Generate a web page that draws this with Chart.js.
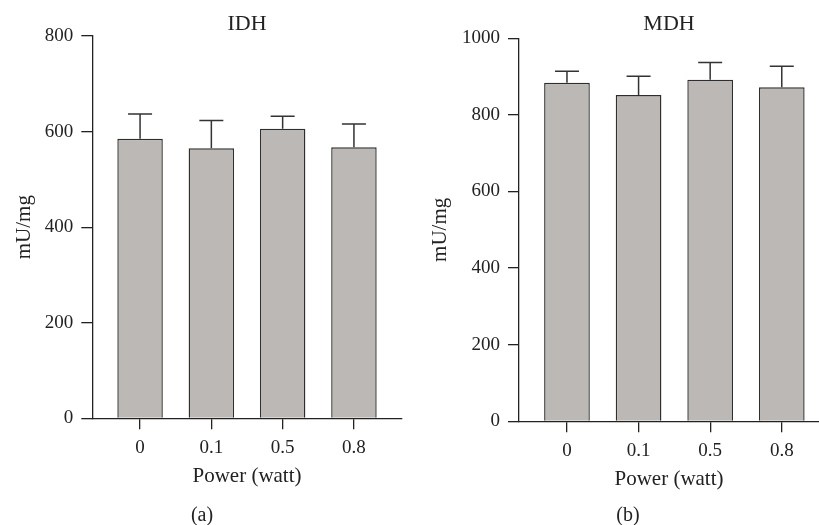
<!DOCTYPE html>
<html><head><meta charset="utf-8">
<script src="https://cdn.jsdelivr.net/npm/chart.js@4/dist/chart.umd.min.js"></script>
<style>
html,body{margin:0;padding:0;background:#fff;width:819px;height:525px;overflow:hidden;}
.panel{position:absolute;top:0;height:525px;}
.lbl{position:absolute;top:504px;line-height:20px;font-family:"Liberation Serif",serif;font-size:20px;color:#222;transform:translateX(-50%);white-space:nowrap;}
</style></head><body>
<div class="panel" style="left:0;width:410px"><canvas id="c1" width="410" height="525"></canvas></div>
<div class="panel" style="left:410px;width:409px"><canvas id="c2" width="409" height="525"></canvas></div>
<div class="lbl" style="left:202px">(a)</div>
<div class="lbl" style="left:628px">(b)</div>
<script>
const categories = ['0', '0.1', '0.5', '0.8'];
const idhMean = [585, 565, 606, 567];
const idhSD = [52, 58, 26, 49];
const mdhMean = [884, 852, 892, 872];
const mdhSD = [30, 49, 45, 55];
const idhTicks = [0, 200, 400, 600, 800];
const mdhTicks = [0, 200, 400, 600, 800, 1000];
const xTitle = 'Power (watt)';
const yTitle = 'mU/mg';

const FONT = '"Liberation Serif", "Times New Roman", serif';
const INK = '#222';

const errorBars = {
  id: 'errorBars',
  afterDatasetsDraw(chart, args, opts) {
    const ctx = chart.ctx;
    const ys = chart.scales.y;
    const meta = chart.getDatasetMeta(0);
    const sds = opts.sds;
    const ds = chart.data.datasets[0].data;
    ctx.save();
    ctx.strokeStyle = '#333';
    ctx.lineWidth = 1.5;
    meta.data.forEach((bar, i) => {
      const v = ds[i].y;
      const yTop = ys.getPixelForValue(v + sds[i]);
      const yBase = ys.getPixelForValue(v);
      ctx.beginPath();
      ctx.moveTo(bar.x, yBase);
      ctx.lineTo(bar.x, yTop);
      ctx.moveTo(bar.x - 12, yTop);
      ctx.lineTo(bar.x + 12, yTop);
      ctx.stroke();
    });
    ctx.restore();
  }
};

function makeChart(id, title, means, sds, ticks, cfg) {
  const data = means.map((v, i) => ({ x: i, y: v }));
  return new Chart(document.getElementById(id), {
    type: 'bar',
    data: {
      datasets: [{
        data: data,
        backgroundColor: '#bcb8b5',
        borderColor: '#2e2e2e',
        borderWidth: 1.4,
        categoryPercentage: 1,
        barPercentage: 0.638
      }]
    },
    plugins: [errorBars],
    options: {
      responsive: false,
      animation: false,
      layout: { padding: { left: 0, right: cfg.padRight, top: 0, bottom: 0 } },
      plugins: {
        legend: { display: false },
        tooltip: { enabled: false },
        errorBars: { sds: sds },
        title: {
          display: true,
          text: title,
          fullSize: false,
          color: INK,
          font: { family: FONT, size: 22, weight: 'normal', lineHeight: 1 },
          padding: { top: 13, bottom: cfg.titleBottom }
        }
      },
      scales: {
        x: {
          type: 'linear',
          offset: false,
          min: -0.67,
          max: cfg.xMax,
          afterBuildTicks: s => { s.ticks = categories.map((c, i) => ({ value: i })); },
          afterFit: s => { s.height = cfg.xHeight; },
          ticks: {
            color: INK,
            padding: 7.5,
            font: { family: FONT, size: 19 },
            callback: (v) => categories[v]
          },
          grid: { display: true, offset: false, drawOnChartArea: false, drawTicks: true, tickLength: 11, color: INK, lineWidth: 1.3 },
          border: { display: true, color: INK, width: 1.3 },
          title: {
            display: true, text: xTitle, color: INK,
            font: { family: FONT, size: 21, lineHeight: 1.2 },
            padding: { top: 0, bottom: cfg.xTitleBottom }
          }
        },
        y: {
          min: 0,
          max: ticks[ticks.length - 1],
          afterBuildTicks: s => { s.ticks = ticks.map(v => ({ value: v })); },
          afterFit: s => { s.width = cfg.yWidth; },
          ticks: {
            color: INK,
            padding: 8,
            font: { family: FONT, size: 19 },
            callback: (v) => String(v)
          },
          grid: { display: true, drawOnChartArea: false, drawTicks: true, tickLength: 11, color: INK, lineWidth: 1.3 },
          border: { display: true, color: INK, width: 1.3 },
          title: {
            display: true, text: yTitle, color: INK,
            font: { family: FONT, size: 21, lineHeight: 1.2 },
            padding: { top: cfg.yTitlePad, bottom: 0 }
          }
        }
      }
    }
  });
}

makeChart('c1', 'IDH', idhMean, idhSD, idhTicks, {
  padRight: 8.3, titleBottom: 1, xMax: 3.67, xHeight: 106.7, xTitleBottom: 35.9, yWidth: 92.3, yTitlePad: 11.4
});
makeChart('c2', 'MDH', mdhMean, mdhSD, mdhTicks, {
  padRight: 0, titleBottom: 3.3, xMax: 3.52, xHeight: 103.7, xTitleBottom: 32.6, yWidth: 109, yTitlePad: 17.4
});
</script>
</body></html>
